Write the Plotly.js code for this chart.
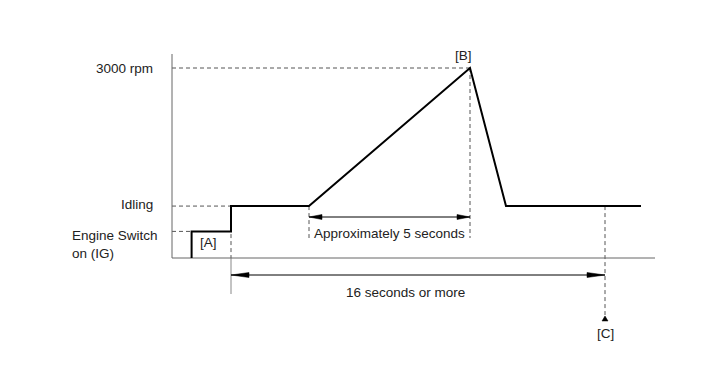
<!DOCTYPE html>
<html>
<head>
<meta charset="utf-8">
<script src="https://cdn.plot.ly/plotly-3.0.1.min.js"></script>
<style>html,body{margin:0;padding:0;background:#fff;}#chart{width:713px;height:381px;}</style>
</head>
<body>
<div id="chart"></div>
<script>
// ---- data (schematic time units, engine speed in rpm) ----
const timeUnits = [0.98, 0.98, 2.95, 2.95, 6.85, 14.9, 16.7, 23.45];
const engineRpm = [0, 420, 420, 820, 820, 3000, 820, 820];
const levelValues = [420, 820, 3000];
const levelLabels = ['Engine Switch<br>on (IG)', 'Idling', '3000 rpm'];
const pointLabels = ['[A]', '[B]', '[C]'];
const spanLabels = ['Approximately 5 seconds', '16 seconds or more'];
const timeC = 21.65;           // point [C]
const axisTimeEnd = 24.15;
const axisRpmTop = 3221;

// ---- scale helpers (pixel sizes -> data units) ----
const X_PER_PX = 1 / 20;
const Y_PER_PX = 3000 / 190;
const xRange = [-172 * X_PER_PX, (713 - 172) * X_PER_PX];
const yRange = [-(381 - 258) * Y_PER_PX, 258 * Y_PER_PX];
const dx = p => p * X_PER_PX;
const dy = p => p * Y_PER_PX;

const tIG = timeUnits[0], tIdle = timeUnits[2], tRamp = timeUnits[4], tPeak = timeUnits[5];
const rIG = levelValues[0], rIdle = levelValues[1], rHigh = levelValues[2];

const traces = [];
const dashStyle = {color: '#555', width: 1, dash: '4px,3px'};
function seg(x, y, line) {
  traces.push({x: x, y: y, mode: 'lines', line: line, hoverinfo: 'skip', showlegend: false});
}
function head(xTip, yTip, dir, lenPx, halfPx, vertical) {
  let xs, ys;
  if (!vertical) {
    const xb = xTip - dir * dx(lenPx);
    xs = [xTip, xb, xb, xTip];
    ys = [yTip, yTip + dy(halfPx), yTip - dy(halfPx), yTip];
  } else {
    const yb = yTip - dir * dy(lenPx);
    xs = [xTip, xTip - dx(halfPx), xTip + dx(halfPx), xTip];
    ys = [yTip, yb, yb, yTip];
  }
  traces.push({x: xs, y: ys, mode: 'lines', fill: 'toself', fillcolor: '#000',
    line: {color: '#000', width: 0.5}, hoverinfo: 'skip', showlegend: false});
}

// dashed guide lines
seg([0, tPeak], [rHigh, rHigh], dashStyle);
seg([0, tIdle], [rIdle, rIdle], dashStyle);
seg([0, tIG], [rIG, rIG], dashStyle);
seg([tIdle, tIdle], [rIdle, 0], dashStyle);
seg([tIdle, tIdle], [0, -dy(36)], {color: '#888', width: 1});
const arrow5y = dy(41);
seg([tRamp, tRamp], [rIdle, arrow5y - dy(21)], dashStyle);
seg([tPeak, tPeak], [rHigh, arrow5y - dy(21)], dashStyle);
const cTipY = -dy(58);
seg([timeC, timeC], [rIdle, cTipY], dashStyle);
head(timeC, cTipY, 1, 5, 3, true);

// axes
seg([0, 0], [axisRpmTop, 0], {color: '#666', width: 1});
seg([0, axisTimeEnd], [0, 0], {color: '#666', width: 1});

// engine speed curve
traces.push({x: timeUnits, y: engineRpm, mode: 'lines', line: {color: '#000', width: 2},
  hoverinfo: 'skip', showlegend: false});

// span arrows
seg([tRamp, tPeak], [arrow5y, arrow5y], {color: '#000', width: 1});
head(tRamp, arrow5y, -1, 13, 2.5, false);
head(tPeak, arrow5y, 1, 13, 2.5, false);
const arrow16y = -dy(17);
seg([tIdle, timeC], [arrow16y, arrow16y], {color: '#000', width: 1});
head(tIdle, arrow16y, -1, 18, 2.5, false);
head(timeC, arrow16y, 1, 18, 2.5, false);

const font = {family: 'Liberation Sans, Arial, sans-serif', size: 13.5, color: '#222'};
function ann(text, x, y, xanchor, opts) {
  return Object.assign({text: text, x: x, y: y, xref: 'x', yref: 'y', showarrow: false,
    xanchor: xanchor, yanchor: 'middle', font: font}, opts || {});
}
const annotations = [
  ann(levelLabels[2], -dx(17), rHigh, 'right', {yshift: 0}),
  ann(levelLabels[1], -dx(17), rIdle, 'right', {yshift: 2}),
  ann(levelLabels[0], -dx(102), rIG - dy(13), 'left', {align: 'left'}),
  ann(pointLabels[0], (tIG + tIdle) / 2, rIG - dy(11), 'center', {xshift: -3}),
  ann(pointLabels[1], tPeak, rHigh, 'center', {xshift: -7, yshift: 13}),
  ann(pointLabels[2], timeC, cTipY, 'center', {yshift: -17}),
  ann(spanLabels[0], (tRamp + tPeak) / 2, arrow5y, 'center', {yshift: -16}),
  ann(spanLabels[1], (tIdle + timeC) / 2, arrow16y, 'center', {xshift: -13, yshift: -17})
];

const layout = {
  width: 713, height: 381,
  margin: {l: 0, r: 0, t: 0, b: 0, pad: 0},
  paper_bgcolor: '#fff', plot_bgcolor: '#fff',
  xaxis: {range: xRange, visible: false, fixedrange: true},
  yaxis: {range: yRange, visible: false, fixedrange: true},
  annotations: annotations,
  hovermode: false,
  showlegend: false
};
Plotly.newPlot('chart', traces, layout, {displayModeBar: false, staticPlot: true});
</script>
</body>
</html>
